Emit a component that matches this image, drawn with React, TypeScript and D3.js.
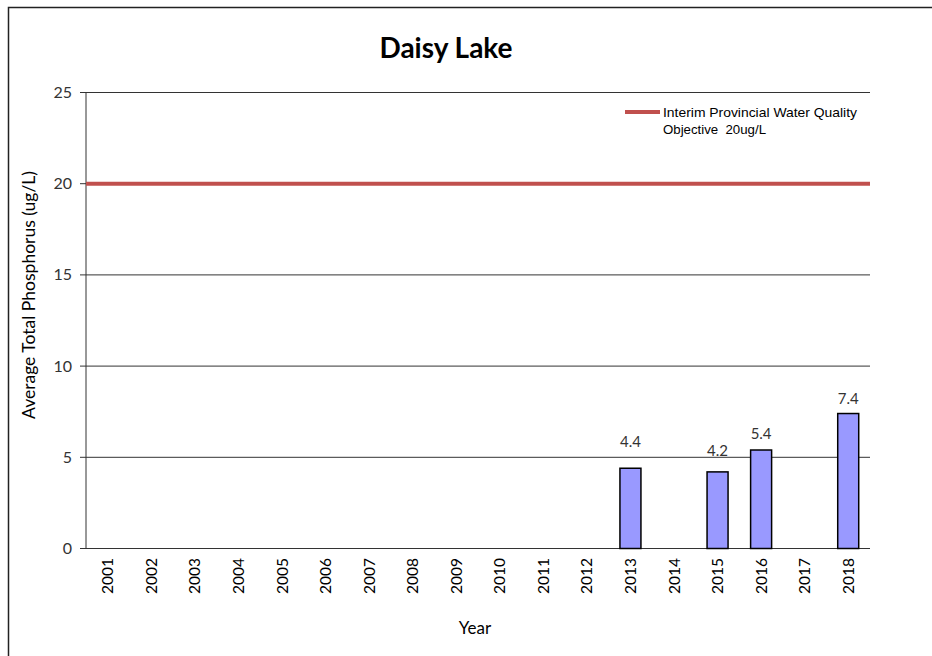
import React from "react";
import * as d3 from "d3";

const years = ["2001","2002","2003","2004","2005","2006","2007","2008","2009","2010","2011","2012","2013","2014","2015","2016","2017","2018"];
const values: (number | null)[] = [null,null,null,null,null,null,null,null,null,null,null,null,4.4,null,4.2,5.4,null,7.4];
const yTicks = [0, 5, 10, 15, 20, 25];
const objective = 20;
const title = "Daisy Lake";
const yLabel = "Average Total Phosphorus (ug/L)";
const xLabel = "Year";
const legendLines = ["Interim Provincial Water Quality", "Objective  20ug/L"];

const W = 932, H = 656;
const left = 86, right = 870, top = 92.5, bottom = 548.5;
const font = "Lato, 'Open Sans', sans-serif";
// label offsets above bar tops (styling, mimics manual label placement)
const labelGap: Record<string, number> = { "2013": 21, "2015": 16, "2016": 11, "2018": 10 };

export default function App() {
  const xc = d3.scaleBand<string>().domain(years).range([left, right]);
  const y = d3.scaleLinear().domain([0, 25]).range([bottom, top]);
  return (
    <svg width={W} height={H} style={{ position: "absolute", left: 0, top: 0, background: "#fff" }}>
      <rect x={8.5} y={7.5} width={940} height={700} fill="#fff" stroke="#222" strokeWidth={1.5} />
      <text x={446} y={58} textAnchor="middle" fontFamily={font} fontWeight="bold" fontSize={28} fill="#000">{title}</text>
      {yTicks.map(t => (
        <g key={t}>
          <line x1={80} x2={right} y1={y(t)} y2={y(t)} stroke="#333" strokeWidth={1} />
          <text x={72} y={y(t) + 5.5} textAnchor="end" fontFamily={font} fontSize={16} fill="#333">{t}</text>
        </g>
      ))}
      <line x1={left} x2={left} y1={top} y2={bottom} stroke="#333" strokeWidth={1} />
      <line x1={left} x2={right} y1={y(objective)} y2={y(objective)} stroke="#C0504D" strokeWidth={4} />
      {years.map((yr, i) => {
        const v = values[i];
        const cx = (xc(yr) as number) + xc.bandwidth() / 2;
        return (
          <g key={yr}>
            {v != null && (
              <>
                <rect x={(cx - 10.5)} y={y(v)} width={21} height={bottom - y(v)} fill="#9999FF" stroke="#000" strokeWidth={1.5} />
                <text x={cx} y={y(v) - (labelGap[yr] ?? 11)} textAnchor="middle" fontFamily={font} fontSize={15} fill="#333">{v.toFixed(1)}</text>
              </>
            )}
            <text transform={`translate(${cx + 5.5},${558}) rotate(-90)`} textAnchor="end" fontFamily={font} fontSize={15.5} fill="#000">{yr}</text>
          </g>
        );
      })}
      <text transform={`translate(35,${295}) rotate(-90)`} textAnchor="middle" fontFamily={font} fontSize={17.5} fill="#000">{yLabel}</text>
      <text x={475} y={634} textAnchor="middle" fontFamily={font} fontSize={17} fill="#000">{xLabel}</text>
      <line x1={625} x2={660} y1={112} y2={112} stroke="#C0504D" strokeWidth={4} />
      {legendLines.map((l, i) => (
        <text key={i} x={663} y={117 + i * 17} fontFamily="'Liberation Sans', Arial, sans-serif" fontSize={13.5} fill="#000"
          textLength={i === 0 ? 194 : 103} lengthAdjust="spacingAndGlyphs" style={{ whiteSpace: "pre" }}>{l}</text>
      ))}
    </svg>
  );
}
